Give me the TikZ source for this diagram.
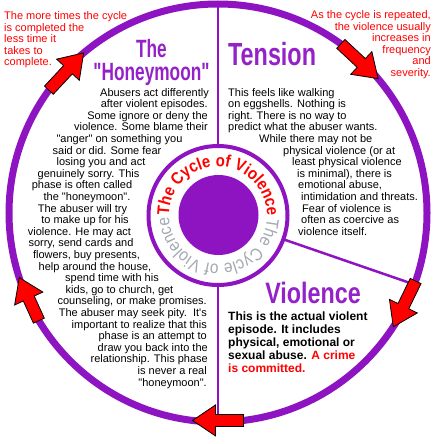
\documentclass[tikz,border=0pt]{standalone}
\usepackage{fontspec}
\setmainfont[Ligatures=TeXOff]{Liberation Sans}
\newfontfamily\cycfont[Ligatures=TeXOff,FakeStretch=0.88]{Liberation Sans}
\usepackage{graphicx}
\usetikzlibrary{calc,decorations.text}
\definecolor{ringpurple}{HTML}{8E14C2}
\definecolor{titlepurple}{HTML}{9422C8}
\definecolor{cycgray}{HTML}{A3A9B0}
\definecolor{arrowred}{HTML}{FF0000}
\newcommand{\cyclearrow}[3]{%
  \coordinate (#1t) at ($(C)+(#2:209)$);
  \coordinate (#1p) at ($(C)+(#3:209)$);
  \coordinate (#1b) at ($(#1p)!23pt!(#1t)$);
  \filldraw[arrowshape] ($(#1t)!6pt!90:(#1p)$) -- ($(#1b)!6pt!90:(#1p)$) -- ($(#1b)!15.5pt!90:(#1p)$) -- (#1p) -- ($(#1b)!15.5pt!-90:(#1p)$) -- ($(#1b)!6pt!-90:(#1p)$) -- ($(#1t)!6pt!-90:(#1p)$) -- cycle;
}
\begin{document}
\begin{tikzpicture}[x=1pt,y=1pt,
  ring/.style={draw=ringpurple, line width=7pt},
  divider/.style={draw=ringpurple, line width=2.5pt},
  arrowshape/.style={fill=arrowred, draw=black, line width=0.8pt, line join=miter},
  bodytxt/.style={inner sep=0pt, font=\fontsize{11}{11}\selectfont},
  boldtxt/.style={inner sep=0pt, font=\fontsize{12}{12}\selectfont\bfseries},
  notetxt/.style={inner sep=0pt, text=arrowred, font=\fontsize{11}{11}\selectfont},
  titletxt/.style={inner sep=0pt, text=titlepurple}]
\useasboundingbox (0,0) rectangle (436,-444);
\fill[white] (0,0) rectangle (436,-444);
\coordinate (C) at (218,-213);
\coordinate (CC) at (218,-215.5);
% main ring
\draw[ring] (C) circle (209);
% dividers
\coordinate (vtop) at ($(C)+(90:209)$);
\coordinate (vbot) at ($(C)+(-90:209)$);
\coordinate (itop) at ($(CC)+(90:69.5)$);
\coordinate (ibot) at ($(CC)+(-90:69.5)$);
\coordinate (dout) at ($(C)+(-20:209)$);
\coordinate (din) at ($(CC)+(-20:69.5)$);
\draw[divider] (vtop) -- (itop);
\draw[divider] (ibot) -- (vbot);
\draw[divider] (din) -- (dout);
% centre
\draw[draw=ringpurple, line width=4pt, fill=white] (CC) circle (69.5);
\fill[ringpurple] (218.5,-215) circle (40);
\path[decorate, decoration={text along path, text align=center, text color=arrowred,
  text={|\cycfont\fontsize{17}{17}\selectfont\bfseries|The Cycle of Violence}}]
  ($(CC)+(181:49)$) arc[start angle=181, end angle=-1, radius=49];
\path[decorate, decoration={text along path, text align=center, text color=cycgray,
  text={|\cycfont\fontsize{17.5}{17.5}\selectfont|The Cycle of Violence}}]
  ($(CC)+(-3:49)$) arc[start angle=-3, end angle=-178, radius=49];
% arrows
\cyclearrow{a}{144}{130}
\cyclearrow{b}{54}{40}
\cyclearrow{c}{-19}{-33}
\cyclearrow{d}{-83}{-97}
\cyclearrow{e}{-149}{-162}
% corner notes
\node[notetxt, anchor=base west] (n1) at (4,-19.5) {The more times the cycle};
\node[notetxt, anchor=base west] (n2) at (4,-31.1) {is completed the};
\node[notetxt, anchor=base west] (n3) at (4,-42.7) {less time it};
\node[notetxt, anchor=base west] (n4) at (4,-54.3) {takes to};
\node[notetxt, anchor=base west] (n5) at (4,-65.9) {complete.};
\node[notetxt, anchor=base east] (m1) at (431,-18.5) {As the cycle is repeated,};
\node[notetxt, anchor=base east] (m2) at (431,-30.1) {the violence usually};
\node[notetxt, anchor=base east] (m3) at (431,-41.7) {increases in};
\node[notetxt, anchor=base east] (m4) at (431,-53.3) {frequency};
\node[notetxt, anchor=base east] (m5) at (431,-64.9) {and};
\node[notetxt, anchor=base east] (m6) at (431,-76.5) {severity.};
% titles
\node[titletxt, anchor=base, font=\fontsize{25}{25}\selectfont\bfseries] (tthe) at (151.5,-57) {\scalebox{0.69}[1]{The}};
\node[titletxt, anchor=base, font=\fontsize{25}{25}\selectfont\bfseries] (thon) at (151.5,-80) {\scalebox{0.69}[1]{"Honeymoon"}};
\node[titletxt, anchor=base west, font=\fontsize{32}{32}\selectfont\bfseries] (tten) at (228,-66) {\scalebox{0.73}[1]{Tension}};
\node[titletxt, anchor=base, font=\fontsize{29.5}{29.5}\selectfont\bfseries] (tvio) at (313,-303) {\scalebox{0.79}[1]{Violence}};
% honeymoon text
\node[bodytxt, anchor=base east] (h0) at (209,-96) {Abusers act differently};
\node[bodytxt, anchor=base east] (h1) at (208,-107.6) {after violent episodes.};
\node[bodytxt, anchor=base east] (h2) at (208,-119.2) {Some ignore or deny the};
\node[bodytxt, anchor=base east] (h3) at (208,-130.8) {violence. Some blame their};
\node[bodytxt, anchor=base] (h4) at (119.5,-142.4) {"anger" on something you};
\node[bodytxt, anchor=base] (h5) at (107,-154) {said or did. Some fear};
\node[bodytxt, anchor=base] (h6) at (101,-165.6) {losing you and act};
\node[bodytxt, anchor=base] (h7) at (88.5,-177.2) {genuinely sorry. This};
\node[bodytxt, anchor=base] (h8) at (82,-188.8) {phase is often called};
\node[bodytxt, anchor=base] (h9) at (87,-200.4) {the "honeymoon".};
\node[bodytxt, anchor=base] (h10) at (82.5,-212) {The abuser will try};
\node[bodytxt, anchor=base] (h11) at (85,-223.6) {to make up for his};
\node[bodytxt, anchor=base] (h12) at (79.5,-235.2) {violence. He may act};
\node[bodytxt, anchor=base] (h13) at (81,-246.8) {sorry, send cards and};
\node[bodytxt, anchor=base] (h14) at (86.5,-258.4) {flowers, buy presents,};
\node[bodytxt, anchor=base] (h15) at (95,-270) {help around the house,};
\node[bodytxt, anchor=base] (h16) at (112,-281.6) {spend time with his};
\node[bodytxt, anchor=base] (h17) at (119.5,-293.2) {kids, go to church, get};
\node[bodytxt, anchor=base east] (h18) at (207,-304.8) {counseling, or make promises.};
\node[bodytxt, anchor=base east] (h19) at (207,-316.4) {The abuser may seek pity.\ \ It's};
\node[bodytxt, anchor=base east] (h20) at (207,-328) {important to realize that this};
\node[bodytxt, anchor=base east] (h21) at (207,-339.6) {phase is an attempt to};
\node[bodytxt, anchor=base east] (h22) at (208,-351.2) {draw you back into the};
\node[bodytxt, anchor=base east] (h23) at (208,-362.8) {relationship. This phase};
\node[bodytxt, anchor=base east] (h24) at (207,-374.4) {is never a real};
\node[bodytxt, anchor=base east] (h25) at (207,-386) {"honeymoon".};
% tension text
\node[bodytxt, anchor=base west] (s0) at (228,-96) {This feels like walking};
\node[bodytxt, anchor=base west] (s1) at (228,-107.6) {on eggshells. Nothing is};
\node[bodytxt, anchor=base west] (s2) at (228,-119.2) {right. There is no way to};
\node[bodytxt, anchor=base west] (s3) at (228,-130.8) {predict what the abuser wants.};
\node[bodytxt, anchor=base west] (s4) at (259,-142.4) {While there may not be};
\node[bodytxt, anchor=base west] (s5) at (283,-154) {physical violence (or at};
\node[bodytxt, anchor=base west] (s6) at (292,-165.6) {least physical violence};
\node[bodytxt, anchor=base west] (s7) at (297,-177.2) {is minimal), there is};
\node[bodytxt, anchor=base west] (s8) at (298,-188.8) {emotional abuse,};
\node[bodytxt, anchor=base west] (s9) at (301,-200.4) {intimidation and threats.};
\node[bodytxt, anchor=base west] (s10) at (302,-212) {Fear of violence is};
\node[bodytxt, anchor=base west] (s11) at (301,-223.6) {often as coercive as};
\node[bodytxt, anchor=base west] (s12) at (298,-235.2) {violence itself.};
% violence text
\node[boldtxt, anchor=base west] (v0) at (228,-320) {This is the actual violent};
\node[boldtxt, anchor=base west] (v1) at (228,-333) {episode. It includes};
\node[boldtxt, anchor=base west] (v2) at (228,-346) {physical, emotional or};
\node[boldtxt, anchor=base west] (v3) at (228,-359) {sexual abuse. \textcolor{arrowred}{A crime}};
\node[boldtxt, anchor=base west, text=arrowred] (v4) at (228,-372) {is committed.};
\end{tikzpicture}
\end{document}
